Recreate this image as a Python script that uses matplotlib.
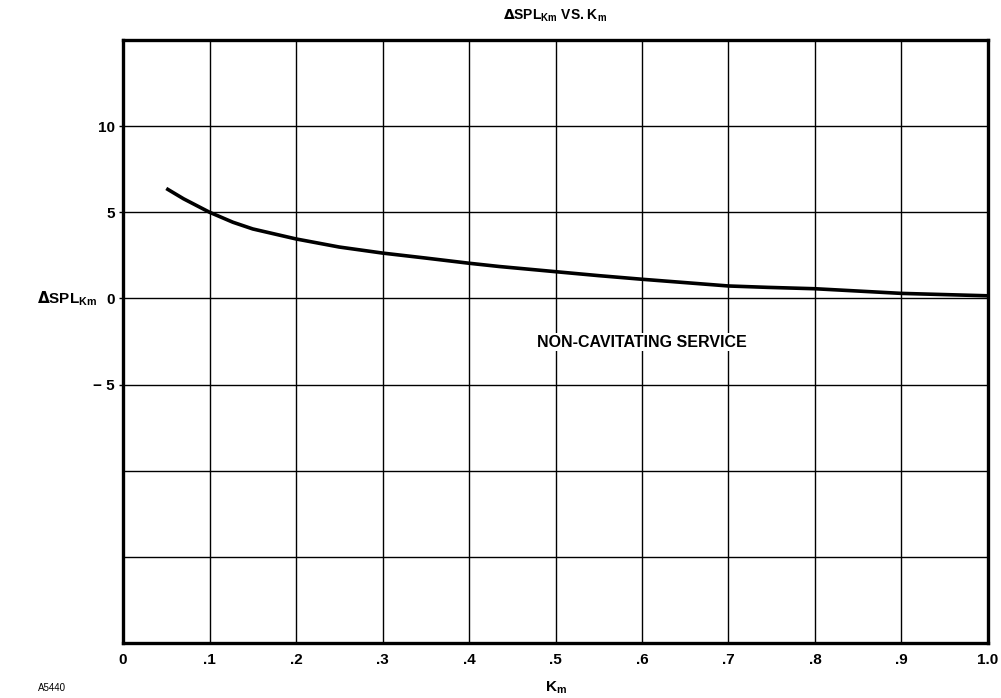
import numpy as np
import matplotlib.pyplot as plt

plt.rcParams['font.family'] = ['Liberation Sans', 'DejaVu Sans']
plt.rcParams['font.weight'] = 'bold'

# curve
km = [0.05, 0.07, 0.1, 0.127, 0.15, 0.2, 0.25, 0.3, 0.35, 0.4, 0.435,
      0.5, 0.55, 0.6, 0.7, 0.745, 0.8, 0.9, 1.0]
dspl = [6.38, 5.78, 5.0, 4.42, 4.03, 3.45, 2.98, 2.63, 2.34, 2.04, 1.85,
        1.55, 1.32, 1.11, 0.72, 0.64, 0.56, 0.29, 0.15]

x_ticks = [0, 0.1, 0.2, 0.3, 0.4, 0.5, 0.6, 0.7, 0.8, 0.9, 1.0]
x_labels = ['0', '.1', '.2', '.3', '.4', '.5', '.6', '.7', '.8', '.9', '1.0']
y_ticks = [-5, 0, 5, 10]
y_labels = ['\u2212 5', '0', '5', '10']
y_grid_only = [-15, -10]


def main():
    fig = plt.figure(figsize=(10.01, 6.98), dpi=100)
    ax = fig.add_axes([0.1229, 0.0788, 0.8641, 0.864])

    ax.plot(km, dspl, color='black', lw=2.6, solid_capstyle='butt',
            solid_joinstyle='round', zorder=3)

    ax.set_xlim(0, 1.0)
    ax.set_ylim(-20, 15)
    ax.set_xticks(x_ticks)
    ax.set_xticklabels(x_labels, fontsize=11, fontweight='bold')
    ax.set_yticks(y_ticks)
    ax.set_yticklabels(y_labels, fontsize=11, fontweight='bold')
    ax.set_yticks(y_grid_only, minor=True)
    ax.tick_params(axis='x', length=0, pad=7)
    ax.tick_params(axis='y', which='major', length=3, width=1, pad=3)
    ax.tick_params(axis='y', which='minor', length=0)
    ax.grid(True, which='both', color='black', lw=1.0)

    for s in ax.spines.values():
        s.set_linewidth(2.4)

    ax.text(0.6, -2.55, 'NON-CAVITATING SERVICE', fontsize=11.5,
            fontweight='bold', ha='center', va='center', zorder=4,
            bbox=dict(facecolor='white', edgecolor='none', pad=1))

    fig.text(0.555, 0.978, r'$\Delta$SPL$_{\mathregular{Km}}$ VS. K$_{\mathregular{m}}$',
             fontsize=10, fontweight='bold', ha='center', va='center')
    fig.text(0.037, 0.572, r'$\Delta$SPL$_{\mathregular{Km}}$', fontsize=11,
             fontweight='bold', ha='left', va='center')
    fig.text(0.555, 0.015, r'K$_{\mathregular{m}}$', fontsize=11,
             fontweight='bold', ha='center', va='center')
    fig.text(0.038, 0.015, 'A5440', fontsize=7, ha='left', va='center',
             fontweight='normal')

    fig.savefig('out.png', dpi=100)


if __name__ == '__main__':
    main()
